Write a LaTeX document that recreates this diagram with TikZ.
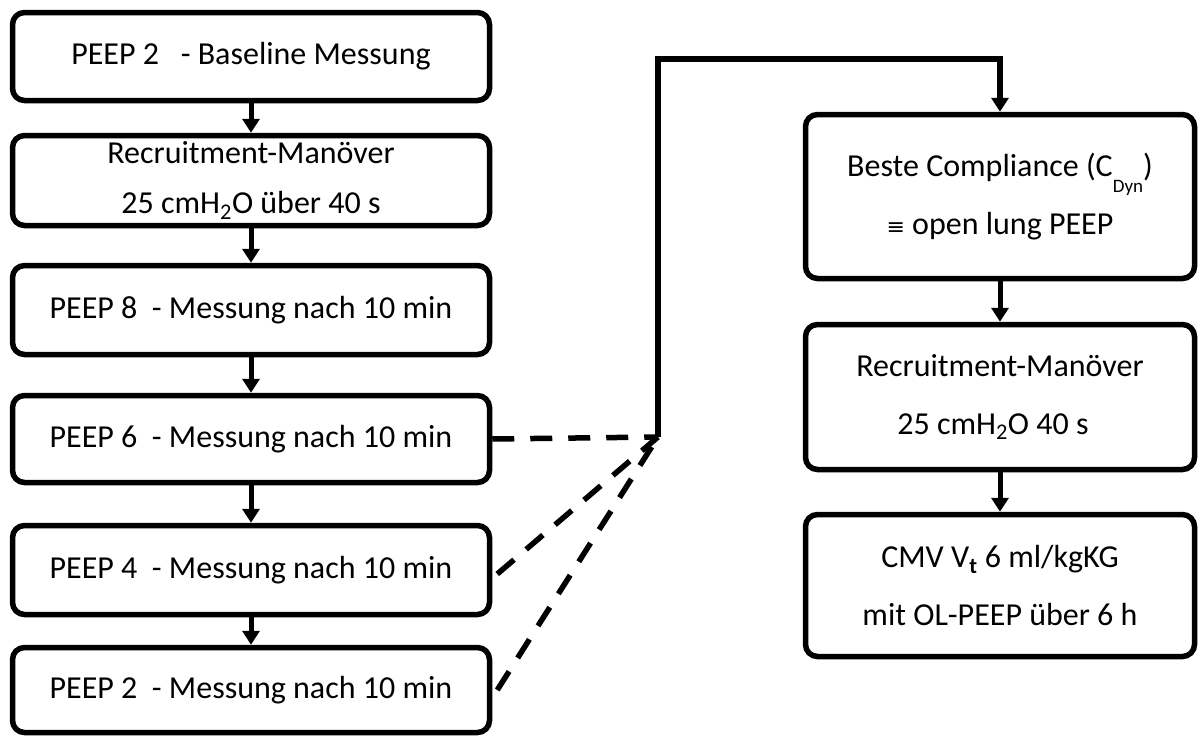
\documentclass[tikz,border=0pt]{standalone}
\usepackage{fontspec}
\setmainfont{Carlito}
\newfontfamily\symfont{DejaVu Sans}
\usetikzlibrary{arrows.meta}
\begin{document}
\begin{tikzpicture}[x=1pt,y=-1pt,
  box/.style={draw,line width=5.5pt,rounded corners=12pt,minimum width=477pt,align=center,inner sep=0pt,font=\fontsize{32}{50}\selectfont},
  rbox/.style={box,minimum width=389pt,font=\fontsize{32}{58}\selectfont},
  flow/.style={line width=5pt,-{Triangle[length=14pt,width=17pt]}},
  dashline/.style={line width=5.5pt,dash pattern=on 22pt off 16pt},
]
\useasboundingbox (0,0) rectangle (1200,736);
\node[box,minimum height=88pt] (b1) at (251,56.5) {PEEP 2 \ \ - Baseline Messung};
\node[box,minimum height=90pt] (b2) at (251,180.5) {Recruitment-Manöver\\25 cmH\textsubscript{2}O über 40 s};
\node[box,minimum height=89pt] (b3) at (251,310) {PEEP 8 \ - Messung nach 10 min};
\node[box,minimum height=87pt] (b4) at (251,439) {PEEP 6 \ - Messung nach 10 min};
\node[box,minimum height=89pt] (b5) at (251,570) {PEEP 4 \ - Messung nach 10 min};
\node[box,minimum height=85pt] (b6) at (251,690) {PEEP 2 \ - Messung nach 10 min};
\node[rbox,minimum height=164pt] (r1) at (1000,196.5) {Beste Compliance (C\raisebox{-0.5em}{\fontsize{19}{19}\selectfont Dyn})\\{\symfont\fontsize{22}{22}\selectfont ≡} open lung PEEP};
\node[rbox,minimum height=145pt] (r2) at (1000,397) {Recruitment-Manöver\\25 cmH\textsubscript{2}O 40 s\hspace*{14pt}};
\node[rbox,minimum height=142pt] (r3) at (1000,585.5) {CMV V\textsubscript{\textbf{t}} 6 ml/kgKG\\mit OL-PEEP über 6 h};
\coordinate (j) at (658,437);
\coordinate (t) at (658,59);
\draw[flow] (b1) -- (b2);
\draw[flow] (b2) -- (b3);
\draw[flow] (b3) -- (b4);
\draw[flow] (b4) -- (b5);
\draw[flow] (b5) -- (b6);
\draw[flow] (r1) -- (r2);
\draw[flow] (r2) -- (r3);
\draw[dashline] (b4.east) -- (j);
\draw[dashline] ([xshift=5pt,yshift=-4pt]b5.east) -- (j);
\draw[dashline] ([xshift=5pt]b6.east) -- (j);
\draw[flow,line width=5.5pt] (j) -- (t) -| (r1.north);
\end{tikzpicture}
\end{document}
